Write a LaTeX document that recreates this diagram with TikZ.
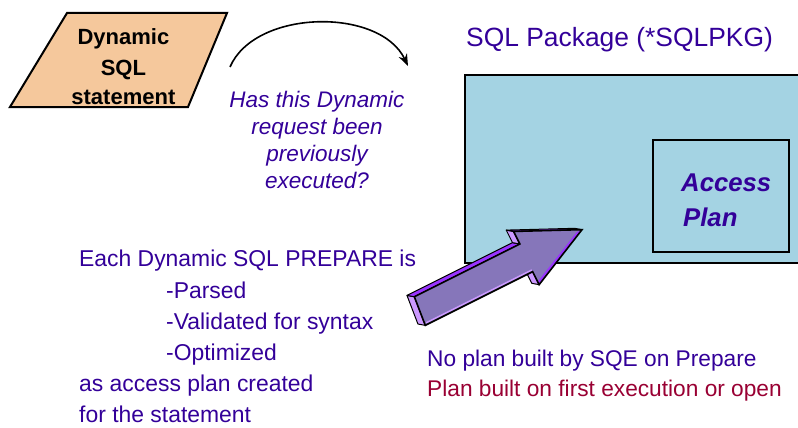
\documentclass[tikz,border=0pt]{standalone}
\usepackage{fontspec}
\setmainfont{Liberation Sans}
\usetikzlibrary{arrows.meta}

\definecolor{ink}{HTML}{330099}
\definecolor{wine}{HTML}{990033}
\definecolor{peach}{HTML}{F5C89C}
\definecolor{pkgblue}{HTML}{A4D3E3}
\definecolor{arrowface}{HTML}{8676BA}
\definecolor{lav}{HTML}{CC99FF}
\definecolor{vio}{HTML}{9933FF}

\begin{document}
\begin{tikzpicture}[x=1pt,y=-1pt,
  outline/.style={draw=black,line width=2pt,line join=miter},
  txt/.style={inner sep=0pt,anchor=base west,text=ink},
  ctxt/.style={inner sep=0pt,anchor=base},
  body/.style={txt,font=\fontsize{22.9}{30}\selectfont},
  note/.style={txt,font=\fontsize{22.7}{30}\selectfont},
  question/.style={ctxt,text=ink,font=\fontsize{22.5}{27}\selectfont\itshape},
  stmtfont/.style={ctxt,font=\fontsize{22}{30}\selectfont\bfseries},
  planfont/.style={txt,font=\fontsize{25.7}{35}\selectfont\bfseries\itshape},
  sidefill/.style={draw=black,line width=1pt,line join=round},
]
\path[use as bounding box] (0,0) rectangle (798,428);

% input parallelogram
\draw[outline,fill=peach] (67,13) -- (227,13) -- (188,107) -- (10,107) -- cycle;
\node[stmtfont] (stmt1) at (123.4,45)    {Dynamic};
\node[stmtfont] (stmt2) at (123.4,75.5)  {SQL};
\node[stmtfont] (stmt3) at (123.4,104.5) {statement};

% curved question arrow
\coordinate (qs) at (230,67);
\coordinate (qe) at (408,66);
\draw[line width=1.6pt,-{Stealth[length=12pt,width=9pt]}]
  (qs) .. controls (255,9) and (380,7) .. (qe);
\node[question] (q1) at (317,107.3) {Has this Dynamic};
\node[question] (q2) at (317,134.6) {request been};
\node[question] (q3) at (317,161.5) {previously};
\node[question] (q4) at (317,188.3) {executed?};

% SQL package
\node[txt,font=\fontsize{26.4}{30}\selectfont] (pkglabel) at (466,46.7)
  {SQL Package (*SQLPKG)};
\draw[outline,fill=pkgblue] (465,75) rectangle (812,263);
\node[draw=black,line width=2pt,fill=pkgblue,minimum width=136pt,
      minimum height=112pt,anchor=north west] (plan) at (652,139) {};
\node[planfont] (plan1) at (681,191.7) {Access};
\node[planfont] (plan2) at (683,226.7) {Plan};

% block arrow (extruded)
\begin{scope}[shift={(413.9,311.5)},rotate=26.57]
  % front face
  \coordinate (A) at (7,-13);   \coordinate (B) at (125,-13);
  \coordinate (C) at (125,-27); \coordinate (D) at (187,2);
  \coordinate (E) at (124,32);  \coordinate (G) at (124,17.5);
  \coordinate (H) at (4,17.5);
  % back face
  \coordinate (A1) at (1,-17.5);   \coordinate (B1) at (119,-17.5);
  \coordinate (C1) at (119,-31.5); \coordinate (D1) at (181,-2.5);
  \coordinate (E1) at (118,27.5);  \coordinate (G1) at (118,13);
  \coordinate (H1) at (-2,13);
  \path[sidefill,fill=lav] (A) -- (H) -- (H1) -- (A1) -- cycle;
  \path[sidefill,fill=vio] (A) -- (B) -- (B1) -- (A1) -- cycle;
  \path[sidefill,fill=lav] (B) -- (C) -- (C1) -- (B1) -- cycle;
  \path[sidefill,fill=vio] (C) -- (D) -- (D1) -- (C1) -- cycle;
  \path[sidefill,fill=lav] (E) -- (G) -- (G1) -- (E1) -- cycle;
  \path[fill=arrowface] (A) -- (B) -- (C) -- (D) -- (E) -- (G) -- (H) -- cycle;
  % bevel highlights on the front face
  \path[fill=vio] (D) -- (E) -- (124.5,28.5) -- (181,2) -- cycle;
  \draw[lav,line width=1.5pt] (6,15.6) -- (124,15.6);
  \draw[line width=1.6pt,line join=miter]
    (A) -- (B) -- (C) -- (D) -- (E) -- (G) -- (H) -- cycle;
\end{scope}

% explanatory text
\node[body] (prep1) at (79,266.7)  {Each Dynamic SQL PREPARE is};
\node[body] (prep2) at (166,298.5) {-Parsed};
\node[body] (prep3) at (166,329.8) {-Validated for syntax};
\node[body] (prep4) at (166,360.7) {-Optimized};
\node[body] (prep5) at (79,391.7)  {as access plan created};
\node[body] (prep6) at (79,422.7)  {for the statement};
\node[note] (noplan) at (427,366) {No plan built by SQE on Prepare};
\node[note,text=wine] (firstexec) at (427,396.7)
  {Plan built on first execution or open};
\end{tikzpicture}
\end{document}
